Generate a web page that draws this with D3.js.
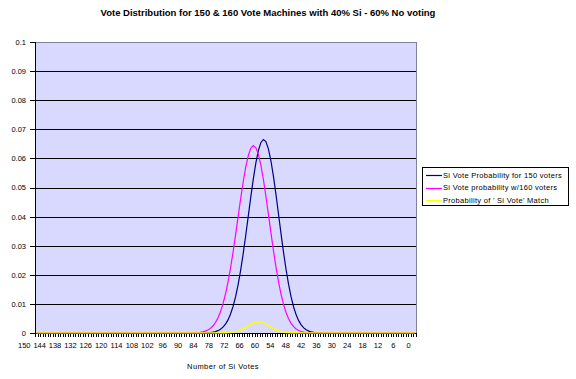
<!DOCTYPE html>
<html><head><meta charset="utf-8">
<script src="https://cdn.jsdelivr.net/npm/d3@7/dist/d3.min.js"></script>
<style>
html,body{margin:0;padding:0;background:#fff;}
svg{display:block;font-family:"Liberation Sans",Arial,sans-serif;}
</style></head><body>
<svg id="c" width="576" height="379"></svg>
<script>
const title = "Vote Distribution for 150 & 160 Vote Machines with 40%  Si - 60% No voting";
const xTitle = "Number of Si Votes";
const seriesNames = ["Si Vote Probability for 150 voters", "Si Vote probability w/160 voters", "Probability of ' Si Vote' Match"];
const seriesColors = ["#000080", "#ff00ff", "#ffff00"];

const categories = [150,149,148,147,146,145,144,143,142,141,140,139,138,137,136,135,134,133,132,131,
130,129,128,127,126,125,124,123,122,121,120,119,118,117,116,115,114,113,112,111,
110,109,108,107,106,105,104,103,102,101,100,99,98,97,96,95,94,93,92,91,
90,89,88,87,86,85,84,83,82,81,80,79,78,77,76,75,74,73,72,71,
70,69,68,67,66,65,64,63,62,61,60,59,58,57,56,55,54,53,52,51,
50,49,48,47,46,45,44,43,42,41,40,39,38,37,36,35,34,33,32,31,
30,29,28,27,26,25,24,23,22,21,20,19,18,17,16,15,14,13,12,11,
10,9,8,7,6,5,4,3,2,1,0];

const xTickLabels = [150,144,138,132,126,120,114,108,102,96,90,84,78,72,66,60,54,48,42,36,30,24,18,12,6,0];
const yTicks = [0,0.01,0.02,0.03,0.04,0.05,0.06,0.07,0.08,0.09,0.1];

// k = 150 ... 0
const si150 = [
0,0,0,0,0,0,0,0,0,0, 0,0,0,0,0,0,0,0,0,0, 0,0,0,0,0,0,0,0,0,0,
0,0,0,0,0,0,0,0,0,0, 0,0,0,0,0,0,0,0,0,0, 0,0,0,0,0,0,0,0,0,0,
0,0,0,0,0,0,0,
0.00005,0.0001,0.00017,0.00029,0.00049,0.0008,0.00129,0.00201,0.00305,0.00451,
0.00651,0.00914,0.01249,0.01663,0.02155,0.0272,0.03343,0.04,0.04659,0.05282,
0.05829,0.06259,0.0654,0.0665,0.06577,0.06327,0.05919,0.05384,0.04761,0.04091,
0.03416,0.02771,0.02183,0.0167,0.0124,0.00894,0.00625,0.00424,0.00278,0.00177,
0.00109,0.00065,0.00038,0.00021,0.00011,0.00006,0.00003,
0,0,0,0,0,0,0,0,0,0, 0,0,0,0,0,0,0,0,0,0, 0,0,0,0,0,0,0,0,0,0,
0,0,0,0,0,0,0];

const si160 = [
0,0,0,0,0,0,0,0,0,0, 0,0,0,0,0,0,0,0,0,0, 0,0,0,0,0,0,0,0,0,0,
0,0,0,0,0,0,0,0,0,0, 0,0,0,0,0,0,0,0,0,0, 0,0,0,0,0,0,0,0,0,0,
0,0,
0.00004,0.00007,0.00013,0.00023,0.00039,0.00064,0.00102,0.00158,0.00241,0.00357,
0.00515,0.00727,0.00999,0.0134,0.01753,0.02237,0.02784,0.03378,0.03997,0.04612,
0.05189,0.05691,0.06085,0.06341,0.0644,0.06374,0.06146,0.05774,0.05283,0.04708,
0.04085,0.0345,0.02836,0.02269,0.01766,0.01337,0.00984,0.00704,0.0049,0.00331,
0.00217,0.00138,0.00085,0.00051,0.0003,0.00017,0.00009,0.00005,
0,0,0,0,0,0,0,0,0,0, 0,0,0,0,0,0,0,0,0,0, 0,0,0,0,0,0,0,0,0,0,
0,0,0,0,0,0,0,0,0,0, 0];

const siMatch = [
0,0,0,0,0,0,0,0,0,0, 0,0,0,0,0,0,0,0,0,0, 0,0,0,0,0,0,0,0,0,0,
0,0,0,0,0,0,0,0,0,0, 0,0,0,0,0,0,0,0,0,0, 0,0,0,0,0,0,0,0,0,0,
0,0,0,0,0,0,0,0,0,0, 0,
0.000002,0.000004,0.000009,0.00002,0.000041,0.000079,0.000146,0.000255,0.000422,0.000665,
0.000994,0.001411,0.001903,0.002434,0.002954,0.003402,0.003715,0.003847,0.003776,0.003513,
0.003096,0.002585,0.002042,0.001527,0.00108,0.000723,0.000457,0.000273,0.000154,0.000082,
0.000041,0.000019,0.000009,0.000004,0.000001,
0,0,0,0,0,0,0,0,0,0, 0,0,0,0,0,0,0,0,0,0, 0,0,0,0,0,0,0,0,0,0,
0,0,0,0,0,0,0,0,0,0, 0,0,0,0,0];

const seriesValues = [si150, si160, siMatch];

const svg = d3.select("#c");
const L = 35, R = 416, T = 42, B = 333;

const x = d3.scaleBand().domain(categories).range([L, R]).paddingInner(0).paddingOuter(0);
const y = d3.scaleLinear().domain([0, 0.1]).range([B, T]);
const cx = c => x(c) + x.bandwidth() / 2;
// label placement (Excel places the sparse category labels on a slightly wider pitch)
const xl = d3.scaleLinear().domain([150, 0]).range([24.3, 408.7]);

// plot area
svg.append("rect").attr("x", L).attr("y", T).attr("width", R - L).attr("height", B - T)
  .attr("fill", "#d9d9ff").attr("stroke", "#8080a0").attr("stroke-width", 1)
  .attr("shape-rendering", "crispEdges");

// gridlines
svg.append("g").selectAll("line").data(yTicks.filter(v => v > 0 && v < 0.1)).join("line")
  .attr("x1", L).attr("x2", R).attr("y1", d => Math.round(y(d)) + 0.5).attr("y2", d => Math.round(y(d)) + 0.5)
  .attr("stroke", "#000").attr("stroke-width", 1).attr("shape-rendering", "crispEdges");

// y axis
const yAxis = svg.append("g").attr("transform", `translate(${L},0)`)
  .call(d3.axisLeft(y).tickValues(yTicks).tickFormat(d => d === 0 ? "0" : d3.format("")(+d.toFixed(2))).tickSize(5).tickPadding(4));
yAxis.select(".domain").attr("stroke", "#000").attr("shape-rendering", "crispEdges");
yAxis.selectAll(".tick line").attr("stroke", "#000").attr("shape-rendering", "crispEdges");
yAxis.selectAll("text").attr("font-size", "7.5px").attr("fill", "#000").attr("font-family", "'Liberation Sans',Arial,sans-serif");

// series lines
const line = d3.line().x((d, i) => cx(categories[i])).y(d => y(d));
seriesValues.forEach((vals, s) => {
  svg.append("path").datum(vals).attr("d", line)
    .attr("fill", "none").attr("stroke", seriesColors[s]).attr("stroke-width", 1.2);
});

// x axis baseline and ticks
const xg = svg.append("g");
xg.append("line").attr("x1", L).attr("x2", R).attr("y1", B + 0.5).attr("y2", B + 0.5)
  .attr("stroke", "#000").attr("shape-rendering", "crispEdges");
const tickPos = categories.map(c => x(c)).concat([x(categories[categories.length - 1]) + x.bandwidth()]);
xg.selectAll("line.t").data(tickPos).join("line").attr("class", "t")
  .attr("x1", d => Math.round(d) + 0.5).attr("x2", d => Math.round(d) + 0.5)
  .attr("y1", B).attr("y2", B + 4).attr("stroke", "#000").attr("shape-rendering", "crispEdges");
// yellow series at zero sits on top of the axis
svg.append("path").datum(siMatch).attr("d", line)
  .attr("fill", "none").attr("stroke", seriesColors[2]).attr("stroke-width", 1.2);

xg.selectAll("text").data(xTickLabels).join("text")
  .attr("x", d => xl(d)).attr("y", 348)
  .attr("text-anchor", "middle").attr("font-size", "7.5px").attr("fill", "#000")
  .text(d => d);

// titles
svg.append("text").attr("x", 268).attr("y", 16).attr("text-anchor", "middle")
  .attr("font-size", "9.5px").attr("font-weight", "bold").text(title);
svg.append("text").attr("x", 223).attr("y", 369).attr("text-anchor", "middle")
  .attr("font-size", "7.5px").attr("letter-spacing", "0.4px").text(xTitle);

// legend
const lg = svg.append("g");
lg.append("rect").attr("x", 422.5).attr("y", 167.5).attr("width", 146).attr("height", 38)
  .attr("fill", "#fff").attr("stroke", "#000").attr("stroke-width", 1);
seriesNames.forEach((n, i) => {
  const yy = 175 + i * 12.5;
  lg.append("line").attr("x1", 426).attr("x2", 442).attr("y1", Math.round(yy) + 0.5).attr("y2", Math.round(yy) + 0.5)
    .attr("stroke", seriesColors[i]).attr("stroke-width", 1.2);
  lg.append("text").attr("x", 443).attr("y", yy + 2.7).attr("font-size", "7.5px")
    .attr("letter-spacing", "0.3px").text(n);
});
</script>
</body></html>
